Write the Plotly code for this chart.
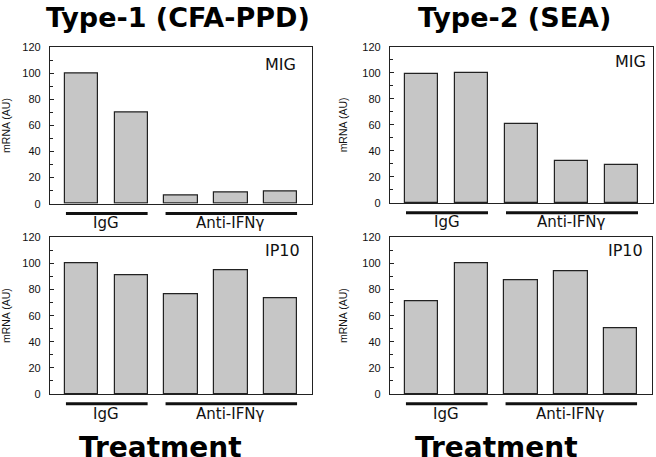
import plotly.graph_objects as go

# ---------------- data ----------------
bar_index = [0, 1, 2, 3, 4]
groups = ["IgG", "Anti-IFNγ"]
group_members = [[0, 1], [2, 3, 4]]
y_ticks = [0, 20, 40, 60, 80, 100, 120]

type1_mig = [100, 70, 6, 9, 9.5]
type1_ip10 = [100, 91, 76, 95, 73]
type2_mig = [99, 100, 61, 32.5, 29]
type2_ip10 = [71, 100, 87, 94, 50]

col_titles = ["Type-1 (CFA-PPD)", "Type-2 (SEA)"]
row_labels = ["MIG", "IP10"]
y_title = "mRNA (AU)"
x_title = "Treatment"

W, H = 656, 457
def X(px):
    return px / W
def Y(py):
    return 1 - py / H

panels = [
    dict(vals=type1_mig, xd=(50, 312), yd=(42.5, 203), label=row_labels[0], lab_x=298, lab_y=60),
    dict(vals=type2_mig, xd=(390, 653), yd=(42.0, 202.3), label=row_labels[0], lab_x=648, lab_y=57),
    dict(vals=type1_ip10, xd=(50, 312), yd=(237.5, 398.5), label=row_labels[1], lab_x=302, lab_y=251),
    dict(vals=type2_ip10, xd=(390, 652), yd=(237.5, 398.5), label=row_labels[1], lab_x=645, lab_y=251),
]

fig = go.Figure()
layout = {}
annotations = []
shapes = []

for i, p in enumerate(panels):
    n = "" if i == 0 else str(i + 1)
    fig.add_trace(go.Bar(
        x=bar_index, y=p["vals"], xaxis="x" + n, yaxis="y" + n,
        width=0.67, marker=dict(color="#c6c6c6", line=dict(color="#222222", width=1.2)),
        showlegend=False, hoverinfo="x+y",
    ))
    layout["xaxis" + n] = dict(
        domain=[X(p["xd"][0]), X(p["xd"][1])], anchor="y" + n,
        range=[-0.63, 4.63], showticklabels=False, ticks="",
        showgrid=False, zeroline=False, showline=True, mirror=True,
        linecolor="#222222", linewidth=1.2, fixedrange=True,
    )
    layout["yaxis" + n] = dict(
        domain=[Y(p["yd"][1]), Y(p["yd"][0])], anchor="x" + n,
        range=[0, 120], tickvals=y_ticks, ticks="inside", ticklen=4,
        tickcolor="#222222", tickwidth=1, ticklabelstandoff=6,
        minor=dict(dtick=10, ticks="inside", ticklen=3, tickcolor="#222222"),
        showgrid=False, zeroline=False, showline=True, mirror=True,
        linecolor="#222222", linewidth=1.2,
        tickfont=dict(family="Liberation Sans", size=11, color="#111111"),
        title=dict(text=y_title, font=dict(family="Liberation Sans", size=10.5, color="#111111"), standoff=12),
    )
    # panel label
    annotations.append(dict(
        x=X(p["lab_x"]), y=Y(p["lab_y"]), xref="paper", yref="paper",
        text=p["label"], showarrow=False, xanchor="right", yanchor="middle",
        font=dict(family="DejaVu Sans", size=16, color="#111111"),
    ))
    # group underlines + labels
    line_py = p["yd"][1] + 10
    lab_py = p["yd"][1] + 20
    for g, members in zip(groups, group_members):
        x0 = members[0] - 0.31
        x1 = members[-1] + 0.33
        shapes.append(dict(
            type="line", xref="x" + n, yref="paper",
            x0=x0, x1=x1, y0=Y(line_py), y1=Y(line_py),
            line=dict(color="#111111", width=3),
        ))
        annotations.append(dict(
            x=(members[0] + members[-1]) / 2, y=Y(lab_py), xref="x" + n, yref="paper",
            text=g, showarrow=False, xanchor="center", yanchor="middle",
            font=dict(family="DejaVu Sans", size=15, color="#111111"),
        ))

# column titles
for t, cx in zip(col_titles, [178, 514]):
    annotations.append(dict(
        x=X(cx), y=Y(12), xref="paper", yref="paper", text=t, showarrow=False,
        xanchor="center", yanchor="middle",
        font=dict(family="DejaVu Sans", size=27, color="#000000", weight="bold"),
    ))
# Treatment labels
for cx in [160, 497]:
    annotations.append(dict(
        x=X(cx), y=Y(453), xref="paper", yref="paper", text=x_title, showarrow=False,
        xanchor="center", yanchor="middle",
        font=dict(family="DejaVu Sans", size=28, color="#000000", weight="bold"),
    ))

fig.update_layout(
    width=W, height=H, margin=dict(l=0, r=0, t=0, b=0),
    paper_bgcolor="white", plot_bgcolor="white",
    annotations=annotations, shapes=shapes, bargap=0,
    **layout,
)

fig.write_html(
    "out.html",
    config={"displayModeBar": False},
    post_script="document.body.style.margin='0';document.body.style.overflow='hidden';",
)
